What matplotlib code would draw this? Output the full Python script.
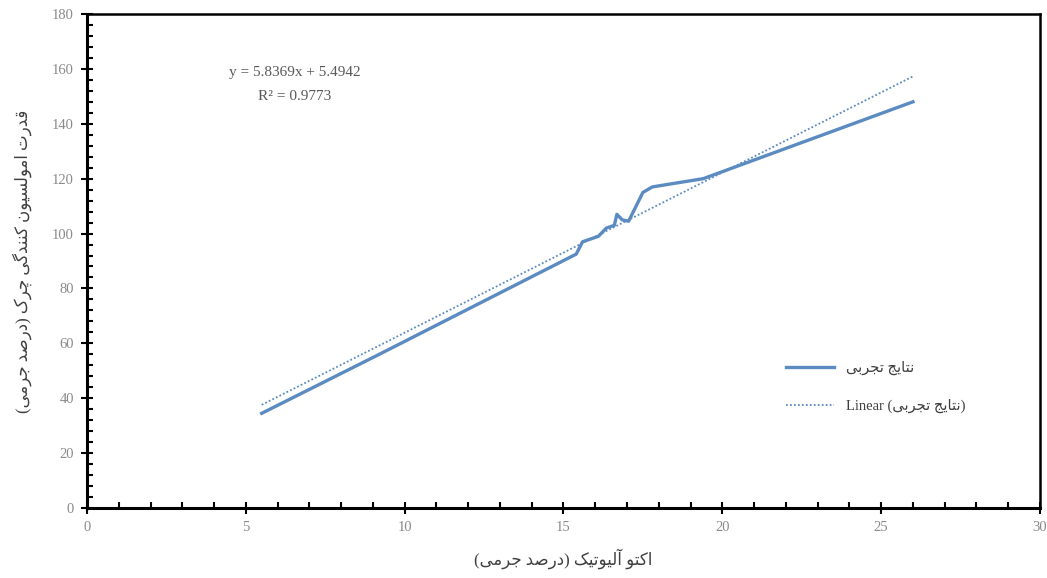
import matplotlib.pyplot as plt
from matplotlib.ticker import MultipleLocator
import numpy as np

plt.rcParams['font.family'] = ['Liberation Serif', 'DejaVu Sans']

# experimental results
x = np.array([5.5, 9.2, 15.4, 15.6, 16.1, 16.35, 16.6, 16.68, 16.85, 17.05, 17.5, 17.8, 19.4, 26.0])
y = np.array([34.5, 56.0, 92.5, 97.0, 99.0, 102.0, 103.0, 107.0, 105.0, 104.5, 115.0, 117.0, 120.0, 148.0])

slope = 5.8369
intercept = 5.4942
r2 = 0.9773

# Persian shaping: (isolated, final, initial, medial)
forms = {
    'ا': ('\uFE8D', '\uFE8E', None, None),
    'آ': ('\uFE81', '\uFE82', None, None),
    'ب': ('\uFE8F', '\uFE90', '\uFE91', '\uFE92'),
    'ت': ('\uFE95', '\uFE96', '\uFE97', '\uFE98'),
    'ج': ('\uFE9D', '\uFE9E', '\uFE9F', '\uFEA0'),
    'چ': ('\uFB7A', '\uFB7B', '\uFB7C', '\uFB7D'),
    'د': ('\uFEA9', '\uFEAA', None, None),
    'ر': ('\uFEAD', '\uFEAE', None, None),
    'س': ('\uFEB1', '\uFEB2', '\uFEB3', '\uFEB4'),
    'ص': ('\uFEB9', '\uFEBA', '\uFEBB', '\uFEBC'),
    'ق': ('\uFED5', '\uFED6', '\uFED7', '\uFED8'),
    'ک': ('\uFB8E', '\uFB8F', '\uFB90', '\uFB91'),
    'گ': ('\uFB92', '\uFB93', '\uFB94', '\uFB95'),
    'ل': ('\uFEDD', '\uFEDE', '\uFEDF', '\uFEE0'),
    'م': ('\uFEE1', '\uFEE2', '\uFEE3', '\uFEE4'),
    'ن': ('\uFEE5', '\uFEE6', '\uFEE7', '\uFEE8'),
    'و': ('\uFEED', '\uFEEE', None, None),
    'ی': ('\uFBFC', '\uFBFD', '\uFBFE', '\uFBFF'),
}


def fa(s):
    out = []
    for i, c in enumerate(s):
        if c not in forms:
            out.append(c)
            continue
        prev = s[i - 1] if i > 0 else ''
        nxt = s[i + 1] if i + 1 < len(s) else ''
        join_prev = prev in forms and forms[prev][2] is not None
        join_next = nxt in forms and forms[c][2] is not None
        iso, fin, ini, med = forms[c]
        if join_prev and join_next:
            out.append(med)
        elif join_prev:
            out.append(fin)
        elif join_next:
            out.append(ini)
        else:
            out.append(iso)
    vis = ''.join(out)[::-1]
    return vis.translate(str.maketrans('()', ')('))


blue = '#5b8bc0'
fig = plt.figure(figsize=(10.47, 5.78), dpi=100)
ax = fig.add_axes([0.0831, 0.1211, 0.9102, 0.8547])

ax.plot(x, y, color=blue, lw=2.4, label=fa('نتایج تجربی'))
xt = np.array([x[0], x[-1]])
ax.plot(xt, slope * xt + intercept, color=blue, lw=1.3, ls=(0, (1, 1.2)),
        label='Linear (' + fa('نتایج تجربی') + ')')

ax.set_xlim(0, 30)
ax.set_ylim(0, 180)
ax.xaxis.set_major_locator(MultipleLocator(5))
ax.xaxis.set_minor_locator(MultipleLocator(1))
ax.yaxis.set_major_locator(MultipleLocator(20))
ax.yaxis.set_minor_locator(MultipleLocator(4))
ax.tick_params(which='major', direction='inout', length=9, width=1.5,
               labelsize=10.5, labelcolor='#8a8a8a', pad=5)
ax.tick_params(which='minor', direction='in', length=4, width=1.5)
for side in ['left', 'bottom']:
    ax.spines[side].set_linewidth(2.2)
for side in ['top', 'right']:
    ax.spines[side].set_linewidth(1.8)

ax.set_xlabel(fa('اکتو آلیوتیک (درصد جرمی)'), fontsize=12, color='#404040', labelpad=10)
ax.set_ylabel(fa('قدرت امولسیون کنندگی چرک (درصد جرمی)'), fontsize=12, color='#404040', labelpad=14)

ax.text(6.55, 158.5, 'y = %.4fx + %.4f' % (slope, intercept), ha='center', va='center',
        fontsize=11, color='#595959')
ax.text(6.55, 149.8, 'R² = %.4f' % r2, ha='center', va='center', fontsize=11, color='#595959')

ax.legend(loc='center left', bbox_to_anchor=(0.72, 0.245), frameon=False,
          handlelength=3.3, labelspacing=1.6, fontsize=10.5, labelcolor='#404040')

fig.savefig('out.png', dpi=100)
